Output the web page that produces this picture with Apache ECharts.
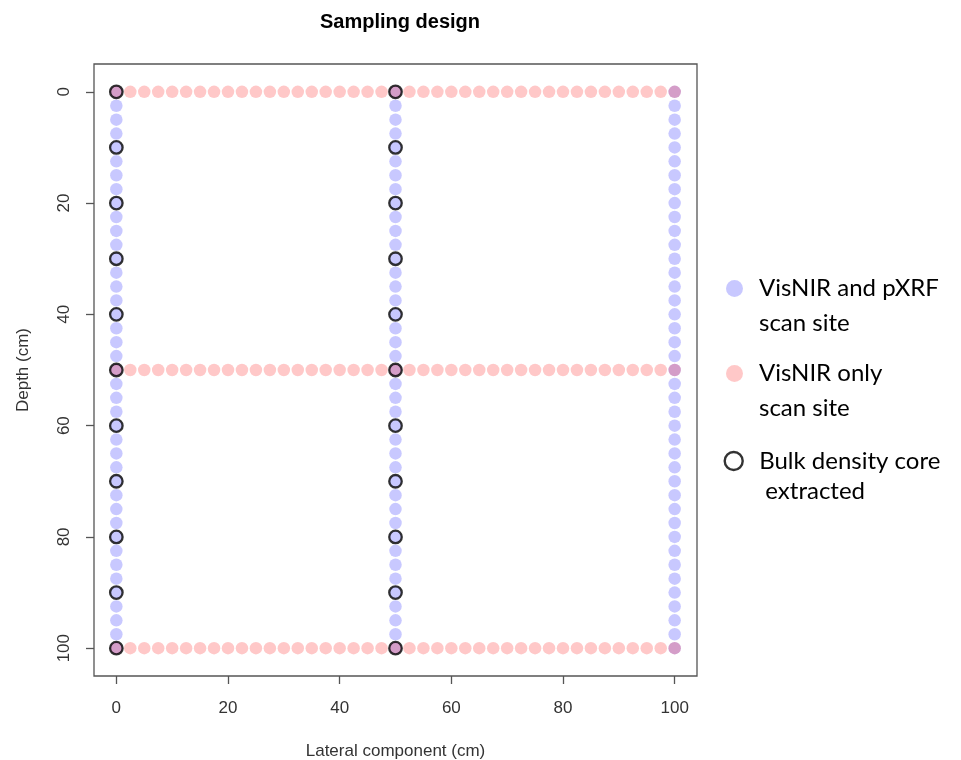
<!DOCTYPE html>
<html>
<head>
<meta charset="utf-8">
<title>Sampling design</title>
<script src="https://cdn.jsdelivr.net/npm/echarts@6/dist/echarts.min.js"></script>
<style>
  html, body { margin: 0; padding: 0; background: #fff; }
  #chart { width: 961px; height: 760px; }
</style>
</head>
<body>
<div id="chart"></div>
<script>
// Scan positions every 2.5 cm along each transect (cm)
const scanPositions = [
  0, 2.5, 5, 7.5, 10, 12.5, 15, 17.5, 20, 22.5,
  25, 27.5, 30, 32.5, 35, 37.5, 40, 42.5, 45, 47.5,
  50, 52.5, 55, 57.5, 60, 62.5, 65, 67.5, 70, 72.5,
  75, 77.5, 80, 82.5, 85, 87.5, 90, 92.5, 95, 97.5, 100
];
// Vertical transects (lateral position, cm) scanned with VisNIR and pXRF
const verticalTransects = [0, 50, 100];
// Horizontal transects (depth, cm) scanned with VisNIR only
const horizontalTransects = [0, 50, 100];
// Bulk density cores: lateral positions and depths (cm)
const coreLaterals = [0, 50];
const coreDepths = [0, 10, 20, 30, 40, 50, 60, 70, 80, 90, 100];
// Axis tick values
const xTicks = [0, 20, 40, 60, 80, 100];
const yTicks = [0, 20, 40, 60, 80, 100];

const NAME_BOTH = 'VisNIR and pXRF\nscan site';
const NAME_VIS = 'VisNIR only\nscan site';
const NAME_CORE = 'Bulk density core\n extracted';

const bothData = [];
verticalTransects.forEach(x => scanPositions.forEach(y => bothData.push([x, y])));
const visData = [];
horizontalTransects.forEach(y => scanPositions.forEach(x => visData.push([x, y])));
const coreData = [];
coreLaterals.forEach(x => coreDepths.forEach(y => coreData.push([x, y])));

const axisFont = { fontFamily: 'Liberation Sans, Arial, sans-serif', fontSize: 17, color: '#333' };
const legendFont = { fontFamily: 'Lato, sans-serif', fontSize: 24, color: '#000' };
// A leading blank line puts the first text line level with the legend symbol
const firstLineOnSymbol = name => '\n' + name;

const chart = echarts.init(document.getElementById('chart'), null, { renderer: 'canvas' });

chart.setOption({
  animation: false,
  backgroundColor: '#fff',
  title: {
    text: 'Sampling design',
    left: 395,
    textAlign: 'center',
    top: 7,
    textStyle: { fontFamily: 'Liberation Sans, Arial, sans-serif', fontSize: 20, fontWeight: 'bold', color: '#000' }
  },
  grid: {
    left: 94, top: 64, width: 603, height: 612,
    outerBoundsMode: 'none',
    containLabel: false,
    show: true, borderColor: '#555', borderWidth: 1.3, backgroundColor: '#fff'
  },
  xAxis: {
    type: 'value',
    min: -4, max: 104,
    name: 'Lateral component (cm)',
    nameLocation: 'middle',
    nameGap: 67,
    nameTextStyle: axisFont,
    axisLine: { show: false, onZero: false },
    axisTick: { show: true, inside: false, length: 8, customValues: xTicks, lineStyle: { color: '#555', width: 1.3 } },
    axisLabel: { customValues: xTicks, margin: 24, ...axisFont },
    splitLine: { show: false }
  },
  yAxis: {
    type: 'value',
    inverse: true,
    min: -5, max: 105,
    name: 'Depth (cm)',
    nameLocation: 'middle',
    nameGap: 62,
    nameRotate: 90,
    nameTextStyle: axisFont,
    axisLine: { show: false, onZero: false },
    axisTick: { show: true, inside: false, length: 8, customValues: yTicks, lineStyle: { color: '#555', width: 1.3 } },
    axisLabel: { customValues: yTicks, rotate: 90, margin: 21, ...axisFont },
    splitLine: { show: false }
  },
  legend: [
    {
      data: [{ name: NAME_BOTH, icon: 'circle' }],
      formatter: firstLineOnSymbol,
      left: 726, top: 236, padding: 0,
      itemWidth: 17, itemHeight: 17, selectedMode: false,
      textStyle: { ...legendFont, lineHeight: 35, padding: [0, 0, 0, 11] }
    },
    {
      data: [{ name: NAME_VIS, icon: 'circle' }],
      formatter: firstLineOnSymbol,
      left: 726, top: 321, padding: 0,
      itemWidth: 17, itemHeight: 17, selectedMode: false,
      textStyle: { ...legendFont, lineHeight: 35, padding: [0, 0, 0, 11] }
    },
    {
      data: [{ name: NAME_CORE, icon: 'circle',
               itemStyle: { color: 'transparent', borderColor: '#000', borderWidth: 2.4 } }],
      formatter: firstLineOnSymbol,
      left: 723.5, top: 416, padding: 0,
      itemWidth: 18, itemHeight: 18, selectedMode: false,
      textStyle: { ...legendFont, lineHeight: 30, padding: [0, 0, 0, 11.5] }
    }
  ],
  series: [
    {
      name: NAME_BOTH,
      type: 'scatter',
      data: bothData,
      symbol: 'circle',
      symbolSize: 12.5,
      itemStyle: { color: 'rgba(0,0,255,0.27)' },
      emphasis: { disabled: true }
    },
    {
      name: NAME_VIS,
      type: 'scatter',
      data: visData,
      symbol: 'circle',
      symbolSize: 12.5,
      itemStyle: { color: 'rgba(255,0,0,0.27)' },
      emphasis: { disabled: true }
    },
    {
      name: NAME_CORE,
      type: 'scatter',
      data: coreData,
      symbol: 'circle',
      symbolSize: 12.5,
      itemStyle: { color: 'transparent', borderColor: '#000', borderWidth: 2.3 },
      emphasis: { disabled: true }
    }
  ]
});
</script>
</body>
</html>
